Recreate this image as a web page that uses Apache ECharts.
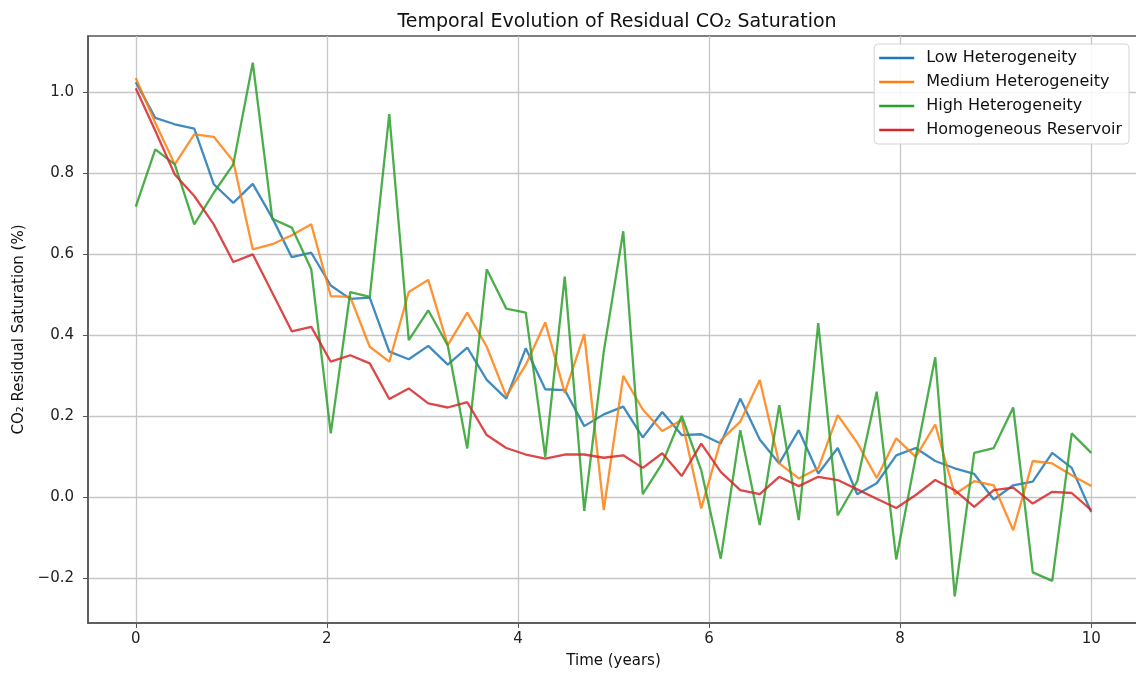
<!DOCTYPE html>
<html>
<head>
<meta charset="utf-8">
<title>Temporal Evolution of Residual CO₂ Saturation</title>
<script src="https://cdn.jsdelivr.net/npm/echarts@6/dist/echarts.min.js"></script>
<style>
  html, body { margin: 0; padding: 0; background: #ffffff; }
  #chart { width: 1136px; height: 673px; }
</style>
</head>
<body>
<div id="chart"></div>
<script>
// Sampling grid: 50 evenly spaced times over 10 years
const times = Array.from({ length: 50 }, (_, i) => i * 10 / 49);

const seriesNames = ['Low Heterogeneity', 'Medium Heterogeneity', 'High Heterogeneity', 'Homogeneous Reservoir'];

const lowHet = [
  1.025, 0.937, 0.921, 0.910, 0.773, 0.727, 0.774, 0.690, 0.593, 0.604,
  0.523, 0.490, 0.493, 0.360, 0.341, 0.374, 0.328, 0.370, 0.290, 0.244,
  0.368, 0.267, 0.265, 0.176, 0.205, 0.224, 0.148, 0.211, 0.154, 0.156,
  0.133, 0.244, 0.143, 0.084, 0.166, 0.059, 0.122, 0.008, 0.035, 0.104,
  0.122, 0.090, 0.072, 0.058, -0.005, 0.030, 0.039, 0.110, 0.073, -0.036
];

const mediumHet = [
  1.035, 0.925, 0.822, 0.896, 0.890, 0.830, 0.612, 0.625, 0.647, 0.674,
  0.497, 0.495, 0.372, 0.335, 0.507, 0.537, 0.376, 0.456, 0.372, 0.250,
  0.327, 0.432, 0.258, 0.403, -0.031, 0.300, 0.217, 0.164, 0.191, -0.027,
  0.141, 0.187, 0.290, 0.084, 0.047, 0.072, 0.203, 0.135, 0.048, 0.146,
  0.100, 0.180, 0.008, 0.040, 0.030, -0.081, 0.090, 0.084, 0.055, 0.028
];

const highHet = [
  0.718, 0.859, 0.822, 0.674, 0.752, 0.822, 1.073, 0.688, 0.666, 0.563,
  0.158, 0.507, 0.495, 0.946, 0.388, 0.462, 0.375, 0.121, 0.563, 0.466,
  0.456, 0.100, 0.545, -0.033, 0.360, 0.657, 0.008, 0.084, 0.201, 0.067,
  -0.151, 0.166, -0.068, 0.228, -0.056, 0.430, -0.044, 0.040, 0.261, -0.153,
  0.100, 0.346, -0.244, 0.110, 0.122, 0.222, -0.185, -0.206, 0.158, 0.110
];

const homogeneous = [
  1.010, 0.905, 0.797, 0.744, 0.674, 0.581, 0.600, 0.505, 0.410, 0.421,
  0.335, 0.351, 0.331, 0.243, 0.269, 0.232, 0.222, 0.235, 0.154, 0.122,
  0.106, 0.096, 0.106, 0.106, 0.098, 0.104, 0.073, 0.109, 0.053, 0.133,
  0.063, 0.018, 0.008, 0.051, 0.028, 0.051, 0.043, 0.020, -0.003, -0.026,
  0.006, 0.043, 0.018, -0.023, 0.018, 0.024, -0.015, 0.014, 0.011, -0.031
];

const xTicks = [0, 2, 4, 6, 8, 10];
const yTicks = [-0.2, 0.0, 0.2, 0.4, 0.6, 0.8, 1.0];

const colors = ['#1f77b4', '#ff7f0e', '#2ca02c', '#d62728'];
const allValues = [lowHet, mediumHet, highHet, homogeneous];

// 5% padding around the data extent on both axes
const flat = allValues.flat();
const yLo = Math.min(...flat), yHi = Math.max(...flat);
const yPad = (yHi - yLo) * 0.05;
const xLo = times[0], xHi = times[times.length - 1];
const xPad = (xHi - xLo) * 0.05;

const FONT = 'DejaVu Sans';
const fmtY = v => (v < 0 ? '\u2212' : '') + Math.abs(v).toFixed(1);

const chart = echarts.init(document.getElementById('chart'), null, { renderer: 'canvas' });

chart.setOption({
  animation: false,
  backgroundColor: '#ffffff',
  title: {
    text: 'Temporal Evolution of Residual CO₂ Saturation',
    left: 612,
    textAlign: 'center',
    top: 8,
    textStyle: { fontFamily: FONT, fontSize: 19, fontWeight: 'normal', color: '#111' }
  },
  legend: {
    data: seriesNames,
    orient: 'vertical',
    right: 7,
    top: 44,
    icon: 'rect',
    itemWidth: 35,
    itemHeight: 2.5,
    itemGap: 8,
    padding: [6, 7, 6, 5],
    backgroundColor: 'rgba(255,255,255,0.85)',
    borderColor: '#d4d4d4',
    borderWidth: 1,
    borderRadius: 4,
    textStyle: { fontFamily: FONT, fontSize: 16, color: '#111', lineHeight: 16, padding: [0, 0, 0, 7] }
  },
  grid: {
    left: 88,
    top: 36,
    width: 1051,
    height: 587,
    show: true,
    borderColor: '#555',
    borderWidth: 1.5,
    containLabel: false,
    outerBoundsMode: 'none'
  },
  xAxis: {
    type: 'value',
    min: xLo - xPad,
    max: xHi + xPad,
    name: 'Time (years)',
    nameLocation: 'middle',
    nameGap: 31,
    nameTextStyle: { fontFamily: FONT, fontSize: 15, color: '#111' },
    axisLine: { show: true, onZero: false, lineStyle: { color: '#555', width: 1.5 } },
    axisTick: { show: true, inside: false, length: 5, customValues: xTicks, lineStyle: { color: '#555' } },
    axisLabel: {
      customValues: xTicks,
      margin: 9,
      fontFamily: FONT, fontSize: 15, color: '#222',
      formatter: v => String(Math.round(v))
    },
    splitLine: { show: true, lineStyle: { color: '#c6c6c6', width: 1.3 } }
  },
  yAxis: {
    type: 'value',
    min: yLo - yPad,
    max: yHi + yPad,
    name: 'CO₂ Residual Saturation (%)',
    nameLocation: 'middle',
    nameGap: 61,
    nameRotate: 90,
    nameTextStyle: { fontFamily: FONT, fontSize: 15, color: '#111' },
    axisLine: { show: true, onZero: false, lineStyle: { color: '#555', width: 1.5 } },
    axisTick: { show: true, inside: false, length: 5, customValues: yTicks, lineStyle: { color: '#555' } },
    axisLabel: {
      customValues: yTicks,
      margin: 14,
      fontFamily: FONT, fontSize: 15, color: '#222',
      formatter: fmtY
    },
    splitLine: { show: true, lineStyle: { color: '#c6c6c6', width: 1.3 } }
  },
  series: seriesNames.map((name, k) => ({
    name,
    type: 'line',
    data: times.map((t, i) => [t, allValues[k][i]]),
    showSymbol: false,
    symbol: 'none',
    smooth: false,
    color: colors[k],
    lineStyle: { width: 2.3, color: colors[k], opacity: 0.85 },
    z: 2 + k
  }))
});
</script>
</body>
</html>
